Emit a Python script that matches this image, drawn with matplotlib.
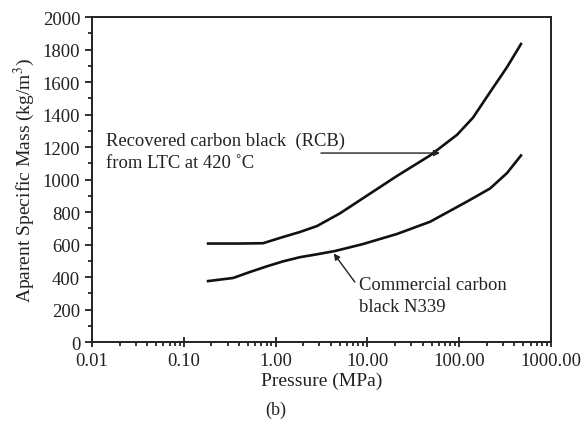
import matplotlib
matplotlib.use("Agg")
import matplotlib.pyplot as plt
from matplotlib.ticker import FixedLocator, MultipleLocator, LogLocator, NullFormatter

# Data
rcb_p = [0.184, 0.40, 0.73, 1.20, 1.84, 2.83, 3.91, 5.03, 8.96, 21.0, 48.1, 94.6, 141, 217, 332, 471]
rcb_m = [606, 606, 608, 646, 677, 714, 758, 792, 885, 1022, 1148, 1275, 1380, 1538, 1692, 1834]

n339_p = [0.184, 0.344, 0.526, 0.806, 1.20, 1.84, 2.83, 4.44, 8.96, 21.0, 48.1, 125, 217, 332, 471]
n339_m = [375, 394, 431, 466, 496, 522, 540, 560, 603, 665, 740, 868, 945, 1040, 1148]

xticks = [0.01, 0.1, 1, 10, 100, 1000]
xticklabels = ["0.01", "0.10", "1.00", "10.00", "100.00", "1000.00"]
yticks = list(range(0, 2001, 200))

plt.rcParams['font.family'] = ['Liberation Serif', 'DejaVu Serif']
plt.rcParams['mathtext.fontset'] = 'stix'

fig = plt.figure(figsize=(5.84, 4.27), dpi=100)
ax = fig.add_axes([0.1575, 0.1967, 0.786, 0.761])

ax.plot(rcb_p, rcb_m, color='#111111', lw=1.9, solid_joinstyle='round')
ax.plot(n339_p, n339_m, color='#111111', lw=1.9, solid_joinstyle='round')

ax.set_xscale('log')
ax.set_xlim(0.01, 1000)
ax.set_ylim(0, 2000)
ax.xaxis.set_major_locator(FixedLocator(xticks))
ax.set_xticklabels(xticklabels)
ax.xaxis.set_minor_locator(LogLocator(base=10, subs=range(2, 10), numticks=20))
ax.xaxis.set_minor_formatter(NullFormatter())
ax.set_yticks(yticks)
ax.yaxis.set_minor_locator(MultipleLocator(100))

ax.tick_params(axis='both', which='major', direction='out', length=5, width=1.3,
               labelsize=13.5, colors='#222222')
ax.tick_params(axis='x', which='major', direction='inout', length=7)
ax.tick_params(axis='both', which='minor', direction='out', length=3, width=1.1)
ax.tick_params(top=False, right=False)
for s in ax.spines.values():
    s.set_linewidth(1.4)
    s.set_color('#222222')

ax.set_xlabel("Pressure (MPa)", fontsize=14, labelpad=2, color='#222222')
ax.set_ylabel("Aparent Specific Mass (kg/m$^3$)", fontsize=14, labelpad=4, color='#222222')

ax.text(0.0142, 1212, "Recovered carbon black  (RCB)",
        fontsize=13.4, va='baseline', ha='left', color='#222222')
ax.text(0.0142, 1080, "from LTC at 420 ˚C",
        fontsize=13.4, va='baseline', ha='left', color='#222222')
ax.annotate("", xy=(61.8, 1163), xytext=(3.12, 1163),
            arrowprops=dict(arrowstyle='-|>', color='#222222', lw=1.0,
                            shrinkA=0, shrinkB=0, mutation_scale=9))

ax.annotate("", xy=(4.3, 545), xytext=(7.3, 369),
            arrowprops=dict(arrowstyle='-|>', color='#222222', lw=1.0,
                            shrinkA=0, shrinkB=0, mutation_scale=9))
ax.text(8.1, 326, "Commercial carbon", fontsize=13.4, va='baseline', ha='left',
        color='#222222')
ax.text(8.1, 191, "black N339", fontsize=13.4, va='baseline', ha='left',
        color='#222222')

fig.text(0.473, 0.04, "(b)", fontsize=13, ha='center', va='center', color='#222222')

fig.savefig("out.png", dpi=100)
